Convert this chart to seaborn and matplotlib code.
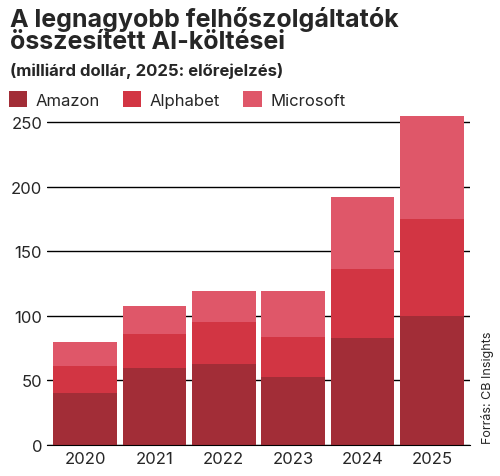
import matplotlib
matplotlib.use("Agg")
import matplotlib.pyplot as plt
import seaborn as sns
import pandas as pd
import numpy as np

years = ["2020", "2021", "2022", "2023", "2024", "2025"]
amazon = [40, 60, 63, 53, 83, 100]
alphabet = [21, 26, 32, 31, 53, 75]
microsoft = [19, 22, 24, 35, 56, 80]

sns.set_style("white")
plt.rcParams['font.family'] = ['Inter', 'DejaVu Sans']

fig = plt.figure(figsize=(5, 4.77), dpi=100)
ax = fig.add_axes([0.094, 0.065, 0.846, 0.69])

df = pd.DataFrame({"year": years, "Amazon": amazon, "Alphabet": alphabet, "Microsoft": microsoft})
colors = {"Amazon": "#a22d37", "Alphabet": "#d23543", "Microsoft": "#df5769"}
bottom = np.zeros(len(years))
for s in ["Amazon", "Alphabet", "Microsoft"]:
    sns.barplot(data=df, x="year", y=s, ax=ax, color=colors[s], bottom=bottom,
                width=0.92, saturation=1, label=s, edgecolor="none")
    bottom += df[s].values

ax.set_ylim(0, 255)
ax.set_yticks([0, 50, 100, 150, 200, 250])
ax.yaxis.grid(True, color="black", lw=1)
ax.set_axisbelow(True)
for sp in ["left", "right", "top"]:
    ax.spines[sp].set_visible(False)
ax.spines["bottom"].set_color("black")
ax.set_xlabel(""); ax.set_ylabel("")
ax.tick_params(axis="both", labelsize=12, length=0)
ax.tick_params(axis="x", pad=4)
ax.set_xlim(-0.55, 5.55)
ax.legend(loc="lower left", bbox_to_anchor=(-0.11, 1.0), ncol=3, frameon=False,
          fontsize=12, handlelength=1.1, handleheight=1.1, columnspacing=1.4, handletextpad=0.5, borderaxespad=0.1)

fig.text(0.02, 0.985, "A legnagyobb felhőszolgáltatók\nösszesített AI-költései", fontsize=18,
         fontweight="bold", va="top", ha="left", linespacing=0.95)
fig.text(0.02, 0.868, "(milliárd dollár, 2025: előrejelzés)", fontsize=12, fontweight="bold", va="top", ha="left")
fig.text(0.975, 0.07, "Forrás: CB Insights", rotation=90, fontsize=9, va="bottom", ha="center")

fig.savefig("out.png", dpi=100)
